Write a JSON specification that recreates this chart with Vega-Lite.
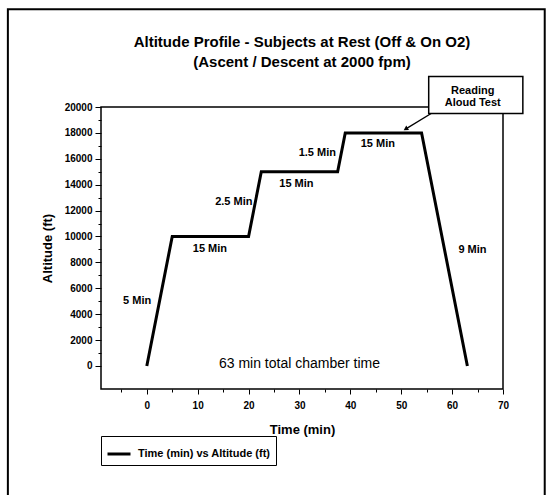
{
  "$schema": "https://vega.github.io/schema/vega-lite/v6.json",
  "width": 402,
  "height": 282,
  "autosize": {"type": "none"},
  "padding": {"left": 101, "top": 107, "right": 47, "bottom": 106},
  "background": "white",
  "title": {
    "text": ["Altitude Profile - Subjects at Rest (Off & On O2)", "(Ascent / Descent at 2000 fpm)"],
    "font": "Liberation Sans",
    "fontSize": 15,
    "fontWeight": "bold",
    "color": "black",
    "anchor": "middle",
    "lineHeight": 20,
    "offset": -62
  },
  "config": {
    "view": {"stroke": "black", "strokeWidth": 1.5},
    "axis": {
      "labelFont": "Liberation Sans",
      "labelFontWeight": "bold",
      "labelFontSize": 10,
      "labelColor": "black",
      "titleFont": "Liberation Sans",
      "titleFontWeight": "bold",
      "titleColor": "black",
      "tickColor": "black",
      "grid": false,
      "domain": false
    }
  },
  "data": {"values": [{"one": 1}]},
  "datasets": {
    "profile": [
      {"time": 0, "altitude": 0},
      {"time": 5, "altitude": 10000},
      {"time": 20, "altitude": 10000},
      {"time": 22.5, "altitude": 15000},
      {"time": 37.5, "altitude": 15000},
      {"time": 39, "altitude": 18000},
      {"time": 54, "altitude": 18000},
      {"time": 63, "altitude": 0}
    ],
    "notes": [
      {"label": "5 Min", "time": -1.9, "altitude": 5000},
      {"label": "15 Min", "time": 12.4, "altitude": 9030},
      {"label": "2.5 Min", "time": 17.1, "altitude": 12700},
      {"label": "15 Min", "time": 29.4, "altitude": 14080},
      {"label": "1.5 Min", "time": 33.5, "altitude": 16450},
      {"label": "15 Min", "time": 45.4, "altitude": 17180},
      {"label": "9 Min", "time": 64.0, "altitude": 8980}
    ]
  },
  "layer": [
    {
      "mark": {"type": "rect", "clip": false, "filled": false, "stroke": "black", "strokeWidth": 2},
      "encoding": {
        "x": {"datum": -27.3, "type": "quantitative", "scale": {"domain": [-9, 70], "nice": false, "zero": false},
              "axis": {"orient": "bottom", "values": [-5, 5, 15, 25, 35, 45, 55, 65], "labels": false, "tickSize": 3, "title": null}},
        "x2": {"datum": 78.2},
        "y": {"datum": 27544, "type": "quantitative", "scale": {"domain": [-1780, 20000], "nice": false, "zero": false},
              "axis": {"orient": "left", "values": [1000, 3000, 5000, 7000, 9000, 11000, 13000, 15000, 17000, 19000], "labels": false, "tickSize": 3, "title": null}},
        "y2": {"datum": -10500}
      }
    },
    {
      "data": {"name": "profile"},
      "mark": {"type": "line", "strokeWidth": 3, "color": "black"},
      "encoding": {
        "x": {"field": "time", "type": "quantitative",
              "axis": {"orient": "bottom", "values": [0, 10, 20, 30, 40, 50, 60, 70], "format": "d", "tickSize": 5, "labelPadding": 6,
                       "labelFlush": false, "labelOverlap": false, "title": "Time (min)", "titleFontSize": 13, "titlePadding": 13}},
        "y": {"field": "altitude", "type": "quantitative",
              "axis": {"orient": "left", "values": [0, 2000, 4000, 6000, 8000, 10000, 12000, 14000, 16000, 18000, 20000], "format": "d",
                       "tickSize": 6, "labelPadding": 3, "labelOverlap": false, "title": "Altitude (ft)", "titleFontSize": 13, "titlePadding": 10}},
        "color": {
          "datum": "Time (min) vs Altitude (ft)",
          "type": "nominal",
          "scale": {"range": ["black"]},
          "legend": {
            "orient": "none", "legendX": 0, "legendY": 329, "title": null,
            "strokeColor": "black", "padding": 5,
            "symbolType": "stroke", "symbolSize": 529, "symbolStrokeWidth": 3, "symbolStrokeColor": "black",
            "labelFont": "Liberation Sans", "labelFontWeight": "bold", "labelFontSize": 11, "labelColor": "black", "labelOffset": 6
          }
        }
      }
    },
    {
      "data": {"name": "notes"},
      "mark": {"type": "text", "font": "Liberation Sans", "fontWeight": "bold", "fontSize": 11, "color": "black", "align": "center", "baseline": "middle"},
      "encoding": {
        "x": {"field": "time", "type": "quantitative", "axis": null},
        "y": {"field": "altitude", "type": "quantitative", "axis": null},
        "text": {"field": "label"}
      }
    },
    {
      "data": {"values": [{"label": "63 min total chamber time", "time": 30, "altitude": 180}]},
      "mark": {"type": "text", "font": "Liberation Sans", "fontSize": 14, "color": "black", "align": "center", "baseline": "middle"},
      "encoding": {
        "x": {"field": "time", "type": "quantitative", "axis": null},
        "y": {"field": "altitude", "type": "quantitative", "axis": null},
        "text": {"field": "label"}
      }
    },
    {
      "mark": {"type": "rule", "clip": false, "color": "black", "strokeWidth": 1.3},
      "encoding": {
        "x": {"datum": 56.6, "type": "quantitative", "axis": null},
        "y": {"datum": 19675, "type": "quantitative", "axis": null},
        "x2": {"datum": 51.0},
        "y2": {"datum": 18330}
      }
    },
    {
      "mark": {"type": "point", "shape": "triangle", "angle": 238.6, "filled": true, "color": "black", "size": 28, "opacity": 1},
      "encoding": {
        "x": {"datum": 51.0, "type": "quantitative", "axis": null},
        "y": {"datum": 18330, "type": "quantitative", "axis": null}
      }
    },
    {
      "mark": {"type": "rect", "clip": false, "fill": "white", "stroke": "black", "strokeWidth": 1.5},
      "encoding": {
        "x": {"datum": 55.4, "type": "quantitative", "axis": null},
        "x2": {"datum": 73.9},
        "y": {"datum": 19497, "type": "quantitative", "axis": null},
        "y2": {"datum": 22360}
      }
    },
    {
      "mark": {"type": "text", "clip": false, "font": "Liberation Sans", "fontWeight": "bold", "fontSize": 11, "color": "black", "align": "center", "baseline": "middle", "lineHeight": 12, "text": ["Reading", "Aloud Test"]},
      "encoding": {
        "x": {"datum": 64.05, "type": "quantitative", "axis": null},
        "y": {"datum": 21230, "type": "quantitative", "axis": null}
      }
    }
  ],
  "resolve": {"axis": {"x": "independent", "y": "independent"}}
}
